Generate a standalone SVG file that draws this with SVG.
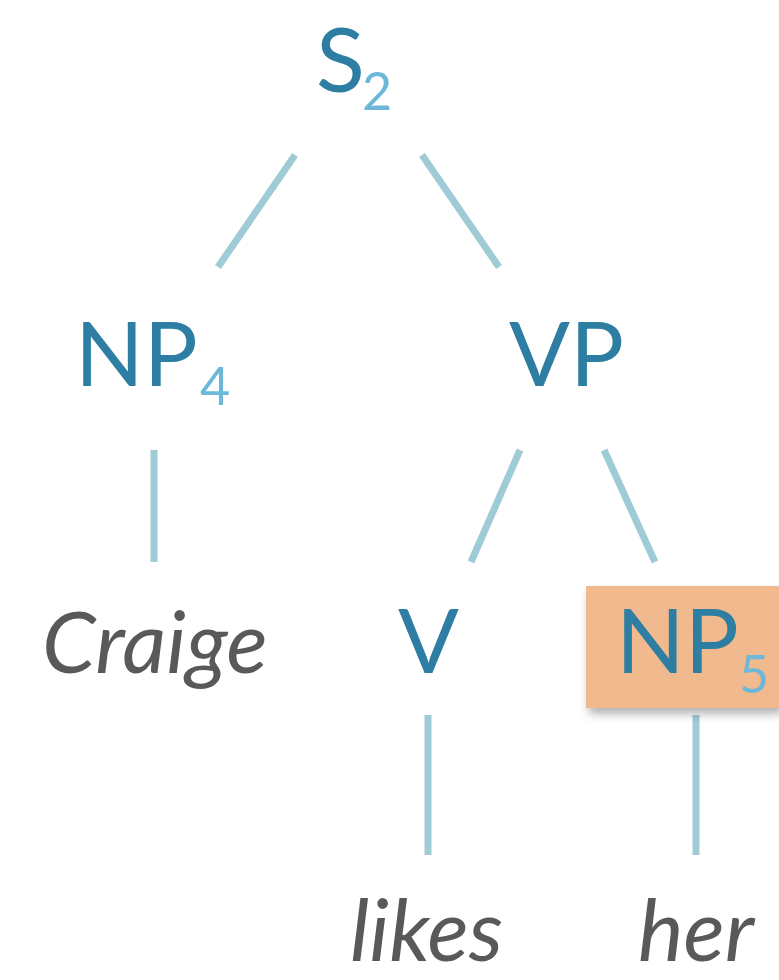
<svg xmlns="http://www.w3.org/2000/svg" width="779" height="980" viewBox="0 0 779 980">
<defs>
<style>
.lbl{font-family:Lato,"Open Sans","Liberation Sans",sans-serif;font-size:90px;fill:#2d7ea2}
.sub{font-family:Lato,"Open Sans","Liberation Sans",sans-serif;font-size:52px;fill:#6db8d9}
.word{font-family:Lato,"Open Sans","Liberation Sans",sans-serif;font-size:86px;font-style:italic;fill:#595959}
.edge{stroke:#9ecbd6;stroke-width:7;fill:none}
</style>
<filter id="sh" x="-10%" y="-10%" width="130%" height="140%">
<feDropShadow dx="3" dy="6" stdDeviation="5" flood-color="#000" flood-opacity="0.3"/>
</filter>
</defs>
<rect width="779" height="980" fill="#fff"/>
<g id="connectors">
<line class="edge" x1="295" y1="155" x2="218" y2="267"/>
<line class="edge" x1="422" y1="155" x2="499" y2="267"/>
<line class="edge" x1="154" y1="450" x2="154" y2="562"/>
<line class="edge" x1="520" y1="450" x2="471" y2="562"/>
<line class="edge" x1="604" y1="450" x2="655" y2="562"/>
<line class="edge" x1="428" y1="715" x2="428" y2="855"/>
<line class="edge" x1="696" y1="715" x2="696" y2="855"/>
</g>
<g id="S2"><text class="lbl" x="316" y="92">S</text><text class="sub" x="362" y="110">2</text></g>
<g id="NP4"><text class="lbl" x="75" y="386">NP</text><text class="sub" x="200" y="405">4</text></g>
<g id="VP"><text class="lbl" x="509" y="386">VP</text></g>
<g id="Craige"><text class="word" x="42" y="673">Craige</text></g>
<g id="V"><text class="lbl" x="398" y="673">V</text></g>
<g id="NP5"><rect x="586" y="586" width="193" height="122" fill="#f1b98e" filter="url(#sh)"/><text class="lbl" x="616" y="673">NP</text><text class="sub" x="739" y="693">5</text></g>
<g id="likes"><text class="word" x="350" y="961">likes</text></g>
<g id="her"><text class="word" x="638" y="961">her</text></g>
</svg>
